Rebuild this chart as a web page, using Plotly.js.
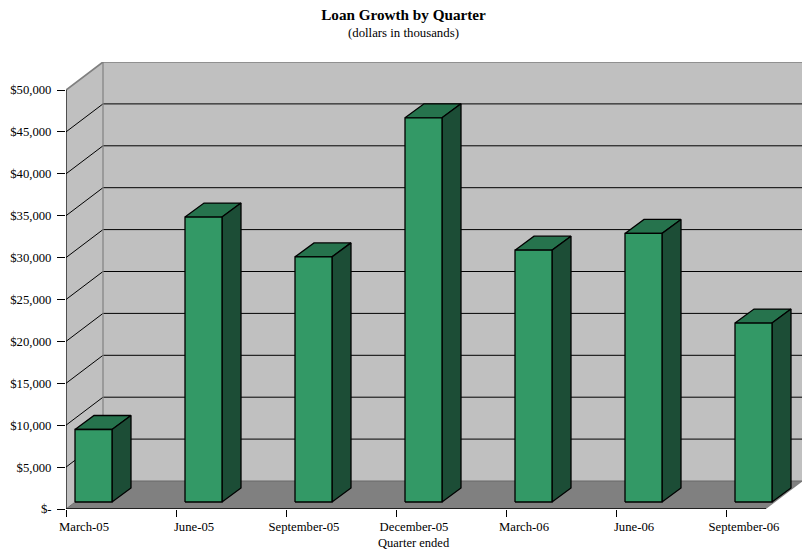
<!DOCTYPE html>
<html>
<head>
<meta charset="utf-8">
<script src="https://cdn.plot.ly/plotly-3.0.1.min.js"></script>
<style>html,body{margin:0;padding:0;background:#fff}</style>
</head>
<body>
<div id="chart" style="width:802px;height:550px"></div>
<script>
// Quarter-end loan balances, in thousands of dollars
const quarters = ["March-05", "June-05", "September-05", "December-05", "March-06", "June-06", "September-06"];
const loanGrowth = [8650, 34000, 29250, 45850, 30050, 32050, 21350];
const yTickValues = [0, 5000, 10000, 15000, 20000, 25000, 30000, 35000, 40000, 45000, 50000];
const yTickLabels = ["$-", "$5,000", "$10,000", "$15,000", "$20,000", "$25,000", "$30,000", "$35,000", "$40,000", "$45,000", "$50,000"];

// Pixel scale of the plot area, used to express the oblique projection in data units
const pxPerCategory = 110;
const pxPerDollar = 419 / 50000;
const plot = { left: 66, top: 62, bottom: 509, right: 802 };
const xMax = (plot.right - plot.left) / pxPerCategory;
const yMax = (plot.bottom - plot.top) / pxPerDollar;
const xEnd = 700 / pxPerCategory;

const px = p => p / pxPerCategory;
const py = p => p / pxPerDollar;

// Depth of the chart box, plus bar placement inside it
const depthX = px(37), depthY = py(28);
const barInsetX = px(9), barInsetY = py(7);
const barWidth = px(37);
const barDepthX = px(19), barDepthY = py(14);

const traces = [];
function poly(xs, ys, fill, line, width) {
  traces.push({
    type: "scatter", mode: "lines", x: xs, y: ys,
    fill: fill ? "toself" : "none", fillcolor: fill || undefined,
    line: { color: line || "rgba(0,0,0,0)", width: width === undefined ? 1 : width, simplify: false },
    hoverinfo: "skip", showlegend: false, cliponaxis: false
  });
}

// Box: back wall, floor, side wall
poly([depthX, xMax, xMax, depthX, depthX], [depthY, depthY, yMax, yMax, depthY], "#C0C0C0");
poly([0, xEnd, xEnd + depthX, depthX, 0], [0, 0, depthY, depthY, 0], "#808080");
poly([0, depthX, depthX, 0, 0], [0, depthY, 50000 + depthY, 50000, 0], "#C0C0C0");

// Gridlines wrap from the side wall on to the back wall
yTickValues.slice(1, -1).forEach(v => {
  poly([0, depthX, xMax], [v, v + depthY, v + depthY], null, "#000000", 1);
});

// Wall outlines
poly([0, depthX, xMax], [50000, 50000 + depthY, 50000 + depthY], null, "#808080", 1.7);
poly([depthX, depthX], [depthY, 50000 + depthY], null, "#808080", 1.2);
poly([0, depthX, xMax], [0, depthY, depthY], null, "#696969", 1);

// Axis lines
poly([0, 0], [0, 50000], null, "#000000", 1.2);
poly([0, xEnd], [0, 0], null, "#000000", 1.5);

// Bars: top, side, then front face
loanGrowth.forEach((v, i) => {
  const x0 = i + barInsetX, x1 = x0 + barWidth;
  const y0 = barInsetY, y1 = barInsetY + v;
  poly([x0, x1, x1 + barDepthX, x0 + barDepthX, x0], [y1, y1, y1 + barDepthY, y1 + barDepthY, y1], "#26734D", "#000000", 1.3);
  poly([x1, x1 + barDepthX, x1 + barDepthX, x1, x1], [y0, y0 + barDepthY, y1 + barDepthY, y1, y0], "#1C4D36", "#000000", 1.3);
  poly([x0, x1, x1, x0, x0], [y0, y0, y1, y1, y0], "#339966", "#000000", 1.3);
});

const serif = '"Liberation Serif", "Times New Roman", serif';
// Places a line of text by its page position, given in pixels
function pageText(text, cx, cy, size) {
  return {
    text: text, showarrow: false, xref: "paper", yref: "paper",
    x: (cx - plot.left) / (plot.right - plot.left),
    y: (plot.bottom - cy) / (plot.bottom - plot.top),
    xanchor: "center", yanchor: "middle",
    font: { family: serif, size: size, color: "#000000" }
  };
}

const layout = {
  width: 802, height: 550,
  paper_bgcolor: "#ffffff", plot_bgcolor: "#ffffff",
  margin: { l: plot.left, r: 802 - plot.right, t: plot.top, b: 550 - plot.bottom, pad: 0 },
  showlegend: false,
  font: { family: serif, color: "#000000", size: 12 },
  title: {
    text: "<b>Loan Growth by Quarter</b>",
    font: { family: serif, size: 15.2, color: "#000000" },
    x: 403.5 / 802, xanchor: "center", xref: "container",
    y: 1 - 15 / 550, yanchor: "middle", yref: "container"
  },
  annotations: [
    pageText("(dollars in thousands)", 403, 33, 12.8),
    pageText("Quarter ended", 414, 543, 12.5)
  ],
  xaxis: {
    range: [0, xMax], showgrid: false, zeroline: false, showline: false, fixedrange: true,
    tickmode: "array",
    tickvals: quarters.map((q, i) => i + px(18)),
    ticktext: quarters,
    ticks: "", ticklabelstandoff: 8,
    tickfont: { family: serif, size: 12.7, color: "#000000" },
    minor: { tickmode: "array", tickvals: quarters.map((q, i) => i), ticks: "outside", ticklen: 7, tickwidth: 1, tickcolor: "#000000", showgrid: false }
  },
  yaxis: {
    range: [0, yMax], showgrid: false, zeroline: false, showline: false, fixedrange: true,
    tickmode: "array", tickvals: yTickValues, ticktext: yTickLabels,
    ticks: "outside", ticklen: 8, tickwidth: 1, tickcolor: "#000000",
    ticklabelstandoff: 3,
    tickfont: { family: serif, size: 12.7, color: "#000000" }
  }
};

Plotly.newPlot("chart", traces, layout, { displayModeBar: false, staticPlot: true });
</script>
</body>
</html>
